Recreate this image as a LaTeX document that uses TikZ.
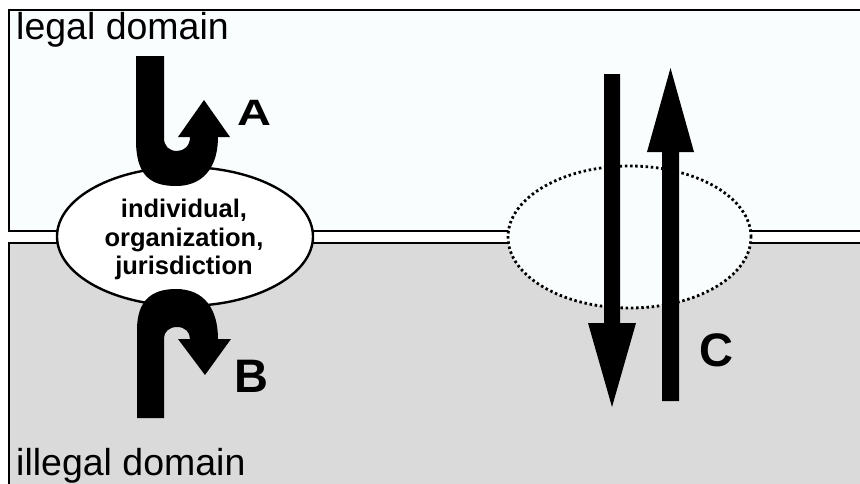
\documentclass[tikz,border=0pt]{standalone}
\usepackage{fontspec}
\usepackage{graphicx}
\usetikzlibrary{shapes.geometric}
\setmainfont{Liberation Sans}
\definecolor{toptint}{RGB}{250,253,253}
\definecolor{lowgrey}{RGB}{218,218,218}
\tikzset{
  domainbox/.style={draw=black, line width=2.4pt},
  bigarrow/.style={fill=black, draw=none},
  domlabel/.style={anchor=base west, inner sep=0pt, font=\fontsize{37.5}{40}\selectfont},
  ovaltext/.style={anchor=base, inner sep=0pt, font=\fontsize{25.5}{28}\selectfont\bfseries},
  letterlabel/.style={anchor=base, inner sep=0pt, font=\fontsize{47}{50}\selectfont\bfseries}
}
\begin{document}
\begin{tikzpicture}[x=1pt, y=-1pt]
\useasboundingbox (0,0) rectangle (860,483);
\clip (0,0) rectangle (860,483);
\fill[white] (0,0) rectangle (860,483);
% domains
\draw[domainbox, fill=toptint] (9,10) rectangle (880,231);
\draw[domainbox, fill=lowgrey] (9,243) rectangle (880,500);
\node[domlabel] (legal) at (16,39) {legal domain};
\node[domlabel] (illegal) at (16,475) {illegal domain};
% left ellipse
\node[draw=black, line width=2.4pt, fill=white, ellipse, minimum width=256pt, minimum height=139pt, inner sep=0pt] (actor) at (185,236.5) {};
% right dotted ellipse
\node[draw=black, line width=2.8pt, fill=toptint, ellipse, dash pattern=on 2.5pt off 2.7pt, minimum width=243pt, minimum height=142pt, inner sep=0pt] (gap) at (629.5,237) {};
% arrow A
\fill[bigarrow] (136,56) -- (136,140) .. controls (136,175) and (150,186) .. (176,186)
  .. controls (205,186) and (218,165) .. (218,137) -- (230,137) -- (204,100) -- (178,137)
  -- (190,137) .. controls (190,146) and (184,151) .. (177,151)
  .. controls (169,151) and (164,146) .. (164,138) -- (164,56) -- cycle;
% arrow B
\fill[bigarrow] (137,418) -- (137,330) .. controls (137,300) and (152,289) .. (176,289)
  .. controls (205,289) and (218,310) .. (218,339) -- (231,339) -- (205,375) -- (178,339)
  -- (190,339) .. controls (190,332) and (185,327) .. (177,327)
  .. controls (169,327) and (164,332) .. (164,338) -- (164,418) -- cycle;
% arrows C
\fill[bigarrow] (604,74) -- (620,74) -- (620,323) -- (636,323) -- (612,407) -- (588,323) -- (604,323) -- cycle;
\fill[bigarrow] (662,401) -- (679,401) -- (679,152) -- (694,152) -- (670.5,68) -- (647,152) -- (662,152) -- cycle;
% ellipse text
\node[ovaltext] (t1) at (184,217) {individual,};
\node[ovaltext] (t2) at (184,246.5) {organization,};
\node[ovaltext] (t3) at (184,274) {jurisdiction};
% letters
\node[letterlabel] (la) at (254.5,125) {\scalebox{1}[0.78]{A}};
\node[letterlabel] (lb) at (251,392) {B};
\node[letterlabel] (lc) at (716.5,366.5) {C};
\end{tikzpicture}
\end{document}
